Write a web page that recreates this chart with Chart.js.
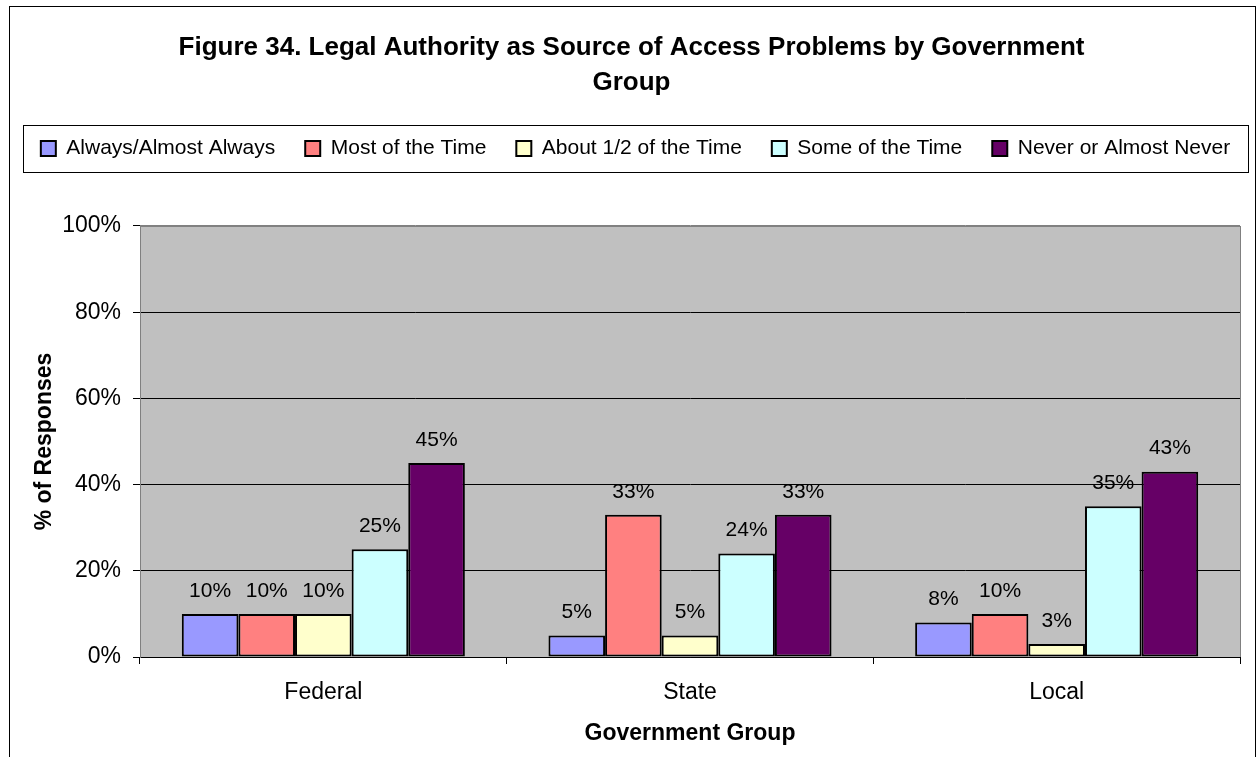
<!DOCTYPE html>
<html>
<head>
<meta charset="utf-8">
<script src="https://cdn.jsdelivr.net/npm/chart.js@4"></script>
<style>
    html, body { margin: 0; padding: 0; background: #fff; }
</style>
</head>
<body>
<canvas id="chart" width="1257" height="757"></canvas>
<script>
// Data
const groups = ['Federal', 'State', 'Local'];
const seriesNames = ['Always/Almost Always', 'Most of the Time', 'About 1/2 of the Time', 'Some of the Time', 'Never or Almost Never'];
const alwaysVals = [10, 5, 8];
const mostVals = [10, 33, 10];
const halfVals = [10, 5, 3];
const someVals = [25, 24, 35];
const neverVals = [45, 33, 43];
const seriesColors = ['#9999FF', '#FF8080', '#FFFFCC', '#CCFFFF', '#660066'];
const yTickValues = [0, 20, 40, 60, 80, 100];

const allValues = [alwaysVals, mostVals, halfVals, someVals, neverVals];

Chart.defaults.font.family = 'Arial, "Liberation Sans", sans-serif';
Chart.defaults.color = '#000';

// Background, outer frame and grey plot area
const backdrop = {
    id: 'backdrop',
    beforeDraw(chart) {
        const ctx = chart.ctx;
        const a = chart.chartArea;
        ctx.save();
        ctx.fillStyle = '#fff';
        ctx.fillRect(0, 0, chart.width, chart.height);
        ctx.strokeStyle = '#000';
        ctx.lineWidth = 1;
        ctx.strokeRect(9.5, 6.5, chart.width - 11, chart.height + 10);
        ctx.fillStyle = '#C0C0C0';
        ctx.fillRect(a.left, a.top, a.right - a.left, a.bottom - a.top);
        ctx.strokeStyle = '#808080';
        ctx.strokeRect(a.left + 0.5, a.top + 0.5, a.right - a.left, a.bottom - a.top);
        ctx.restore();
    }
};

// Keep the legend on one row, add space below it, and frame it
const legendFrame = {
    id: 'legendFrame',
    beforeInit(chart) {
        const fit = chart.legend.fit;
        chart.legend.fit = function () {
            const mw = this.maxWidth;
            this.maxWidth = mw + 200;
            fit.call(this);
            this.maxWidth = mw;
            if (this.isHorizontal()) this.width = mw;
            this.height = 118;
        };
    },
    afterLayout(chart) {
        const lg = chart.legend;
        lg.frameLeft = lg.left;
        lg.left -= 36;
        lg.right += 44;
    },
    afterDraw(chart) {
        const lg = chart.legend;
        const boxes = lg.legendHitBoxes;
        if (!boxes || !boxes.length) return;
        const top = boxes[0].top + boxes[0].height / 2 - 23.5;
        const ctx = chart.ctx;
        ctx.save();
        ctx.strokeStyle = '#000';
        ctx.lineWidth = 1;
        ctx.strokeRect(lg.frameLeft + 0.5, Math.round(top) + 0.5, chart.width - 9 - lg.frameLeft, 47);
        ctx.restore();
    }
};

// Value labels over bars
const valueLabels = {
    id: 'valueLabels',
    afterDatasetsDraw(chart) {
        const ctx = chart.ctx;
        ctx.save();
        ctx.font = '21px Arial, "Liberation Sans", sans-serif';
        ctx.fillStyle = '#000';
        ctx.textAlign = 'center';
        ctx.textBaseline = 'middle';
        chart.data.datasets.forEach((ds, i) => {
            chart.getDatasetMeta(i).data.forEach((bar, j) => {
                ctx.fillText(ds.data[j] + '%', bar.x, bar.y - 23);
            });
        });
        ctx.restore();
    }
};

const datasets = seriesNames.map((name, i) => ({
    label: name,
    data: allValues[i],
    backgroundColor: seriesColors[i],
    borderColor: '#000',
    borderWidth: 2,
    borderSkipped: false,
    categoryPercentage: 0.772,
    barPercentage: 1
}));

new Chart(document.getElementById('chart'), {
    type: 'bar',
    data: { labels: groups, datasets },
    options: {
        responsive: false,
        animation: false,
        layout: { padding: { left: 23, right: 17, top: 0, bottom: 10 } },
        plugins: {
            title: {
                display: true,
                text: ['Figure 34. Legal Authority as Source of Access Problems by Government', 'Group'],
                font: { size: 26, weight: 'bold', lineHeight: 1.346 },
                color: '#000',
                padding: { top: 30, bottom: 8 }
            },
            legend: {
                display: true,
                labels: {
                    boxWidth: 15,
                    boxHeight: 15,
                    padding: 30,
                    font: { size: 21 },
                    color: '#000'
                }
            },
            tooltip: { enabled: false }
        },
        scales: {
            x: {
                afterFit(scale) { scale.height = 90; },
                grid: { offset: true, drawOnChartArea: false, tickLength: 7, color: '#000' },
                border: { color: '#000', width: 1 },
                ticks: { font: { size: 23 }, padding: 15, color: '#000' },
                title: {
                    display: true,
                    text: 'Government Group',
                    font: { size: 23, weight: 'bold' },
                    padding: { top: 17, bottom: 0 },
                    color: '#000'
                }
            },
            y: {
                min: 0,
                max: 100,
                afterFit(scale) { scale.width = 117; },
                afterBuildTicks(scale) { scale.ticks = yTickValues.map(v => ({ value: v })); },
                grid: {
                    color: c => (c.tick && c.tick.value === 100 ? '#808080' : '#000'),
                    tickColor: '#000',
                    tickLength: 7,
                    lineWidth: 1
                },
                border: { color: '#808080' },
                ticks: { font: { size: 23 }, padding: 12, color: '#000', callback: v => v + '%' },
                title: {
                    display: true,
                    text: '% of Responses',
                    font: { size: 23, weight: 'bold' },
                    padding: { top: 8, bottom: 0 },
                    color: '#000'
                }
            }
        }
    },
    plugins: [backdrop, legendFrame, valueLabels]
});
</script>
</body>
</html>
